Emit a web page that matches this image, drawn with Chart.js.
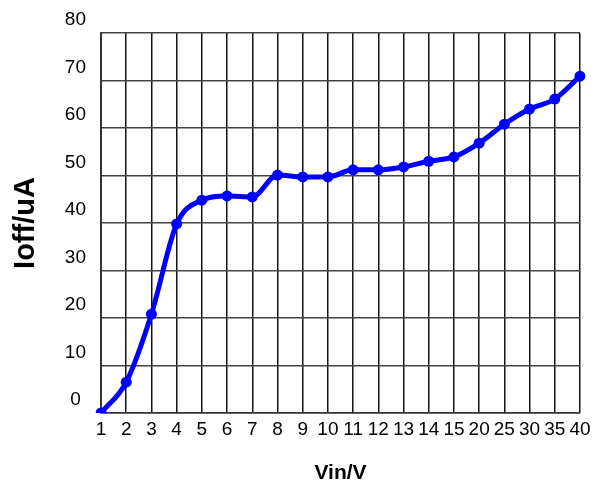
<!DOCTYPE html>
<html>
<head>
<meta charset="utf-8">
<script src="https://cdn.jsdelivr.net/npm/chart.js@4"></script>
<style>
  html, body { margin: 0; padding: 0; background: #fff; }
  #wrap { width: 601px; height: 488px; }
</style>
</head>
<body>
<div id="wrap"><canvas id="c" width="601" height="488"></canvas></div>
<script>
const categories = ['1','2','3','4','5','6','7','8','9','10','11','12','13','14','15','20','25','30','35','40'];
const ioffValues = [0, 6.5, 20.8, 39.8, 44.8, 45.7, 45.5, 50.1, 49.7, 49.7, 51.2, 51.2, 51.8, 53, 53.9, 56.8, 60.8, 64, 66.1, 70.9];
const yTicks = [0, 10, 20, 30, 40, 50, 60, 70, 80];
const xTitle = 'Vin/V';
const yTitle = 'Ioff/uA';

const FONT = "'Liberation Sans', Arial, sans-serif";

new Chart(document.getElementById('c'), {
  type: 'line',
  data: {
    labels: categories,
    datasets: [{
      data: ioffValues,
      borderColor: '#0000ff',
      backgroundColor: '#0000ff',
      borderWidth: 5,
      pointRadius: 5.5,
      pointBackgroundColor: '#0000ff',
      pointBorderColor: '#0000ff',
      pointBorderWidth: 0,
      tension: 0.4,
      cubicInterpolationMode: 'monotone',
      fill: false
    }]
  },
  options: {
    responsive: false,
    animation: false,
    devicePixelRatio: 1,
    layout: { padding: { left: 0, right: 21, top: 33, bottom: 0 } },
    plugins: { legend: { display: false }, tooltip: { enabled: false } },
    scales: {
      x: {
        type: 'category',
        offset: false,
        grid: { color: '#111', lineWidth: 1.5, drawTicks: false },
        border: { color: '#333', width: 1.5 },
        ticks: {
          color: '#000',
          font: { family: FONT, size: 19 },
          padding: 5,
          maxRotation: 0,
          autoSkip: false
        },
        title: {
          display: true,
          text: xTitle,
          color: '#000',
          font: { family: FONT, size: 21, weight: 'bold' },
          padding: { top: 0, bottom: 2 }
        },
        afterFit: s => { s.height = 75; }
      },
      y: {
        min: 0,
        max: 80,
        afterBuildTicks: s => { s.ticks = yTicks.map(v => ({ value: v })); },
        grid: { color: '#444', lineWidth: 1.5, drawTicks: false },
        border: { color: '#333', width: 2 },
        ticks: {
          color: '#000',
          font: { family: FONT, size: 19 },
          padding: 15,
          crossAlign: 'center',
          labelOffset: -13
        },
        title: {
          display: true,
          text: yTitle,
          color: '#000',
          font: { family: FONT, size: 29, weight: 'bold' },
          padding: { top: 9, bottom: 0 }
        },
        afterFit: s => { s.width = 101; }
      }
    }
  }
});
</script>
</body>
</html>
